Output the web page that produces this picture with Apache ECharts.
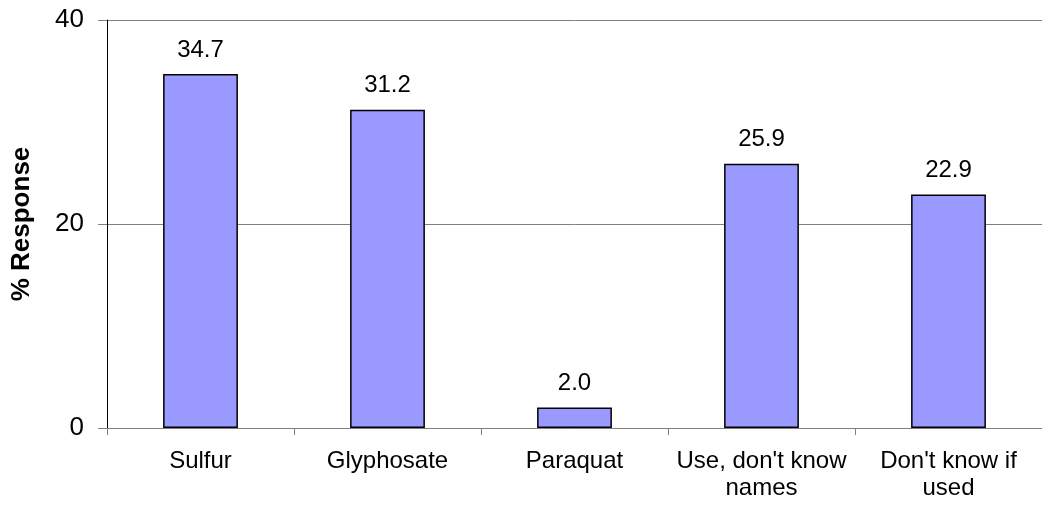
<!DOCTYPE html>
<html>
<head>
<meta charset="utf-8">
<style>
  html, body { margin: 0; padding: 0; background: #fff; }
  #chart { width: 1042px; height: 506px; }
</style>
<script src="https://cdn.jsdelivr.net/npm/echarts@6/dist/echarts.min.js"></script>
</head>
<body>
<div id="chart"></div>
<script>
  const categories = ['Sulfur', 'Glyphosate', 'Paraquat', "Use, don't know\nnames", "Don't know if\nused"];
  const responses = [34.7, 31.2, 2.0, 25.9, 22.9];
  const yTicks = [0, 20, 40];

  const font = 'Liberation Sans, Arial, sans-serif';
  const chart = echarts.init(document.getElementById('chart'));

  const option = {
    animation: false,
    grid: {
      left: 107,
      right: -11,
      top: 20,
      bottom: 78
    },
    xAxis: {
      type: 'category',
      data: categories,
      axisLine: { lineStyle: { color: '#808080', width: 1 } },
      axisTick: { show: true, length: 7, lineStyle: { color: '#808080' } },
      axisLabel: {
        color: '#000',
        fontFamily: font,
        fontSize: 24,
        lineHeight: 27,
        margin: 20,
        interval: 0
      }
    },
    yAxis: {
      type: 'value',
      min: yTicks[0],
      max: yTicks[yTicks.length - 1],
      interval: 20,
      name: '% Response',
      nameLocation: 'middle',
      nameRotate: 90,
      nameGap: 72,
      nameTextStyle: {
        color: '#000',
        fontFamily: font,
        fontSize: 26,
        fontWeight: 'bold'
      },
      axisLine: { show: true, lineStyle: { color: '#000', width: 1 } },
      axisTick: { show: true, length: 9, lineStyle: { color: '#808080' } },
      axisLabel: {
        color: '#000',
        fontFamily: font,
        fontSize: 26,
        margin: 23
      },
      splitLine: { show: true, lineStyle: { color: '#808080', width: 1 } }
    },
    series: [{
      type: 'bar',
      data: responses,
      barWidth: '40%',
      itemStyle: {
        color: '#9999FF',
        borderColor: '#000',
        borderWidth: 1.5
      },
      label: {
        show: true,
        position: 'top',
        distance: 12,
        color: '#000',
        fontFamily: font,
        fontSize: 24,
        formatter: (p) => p.value.toFixed(1)
      }
    }]
  };
  chart.setOption(option);
</script>
</body>
</html>
